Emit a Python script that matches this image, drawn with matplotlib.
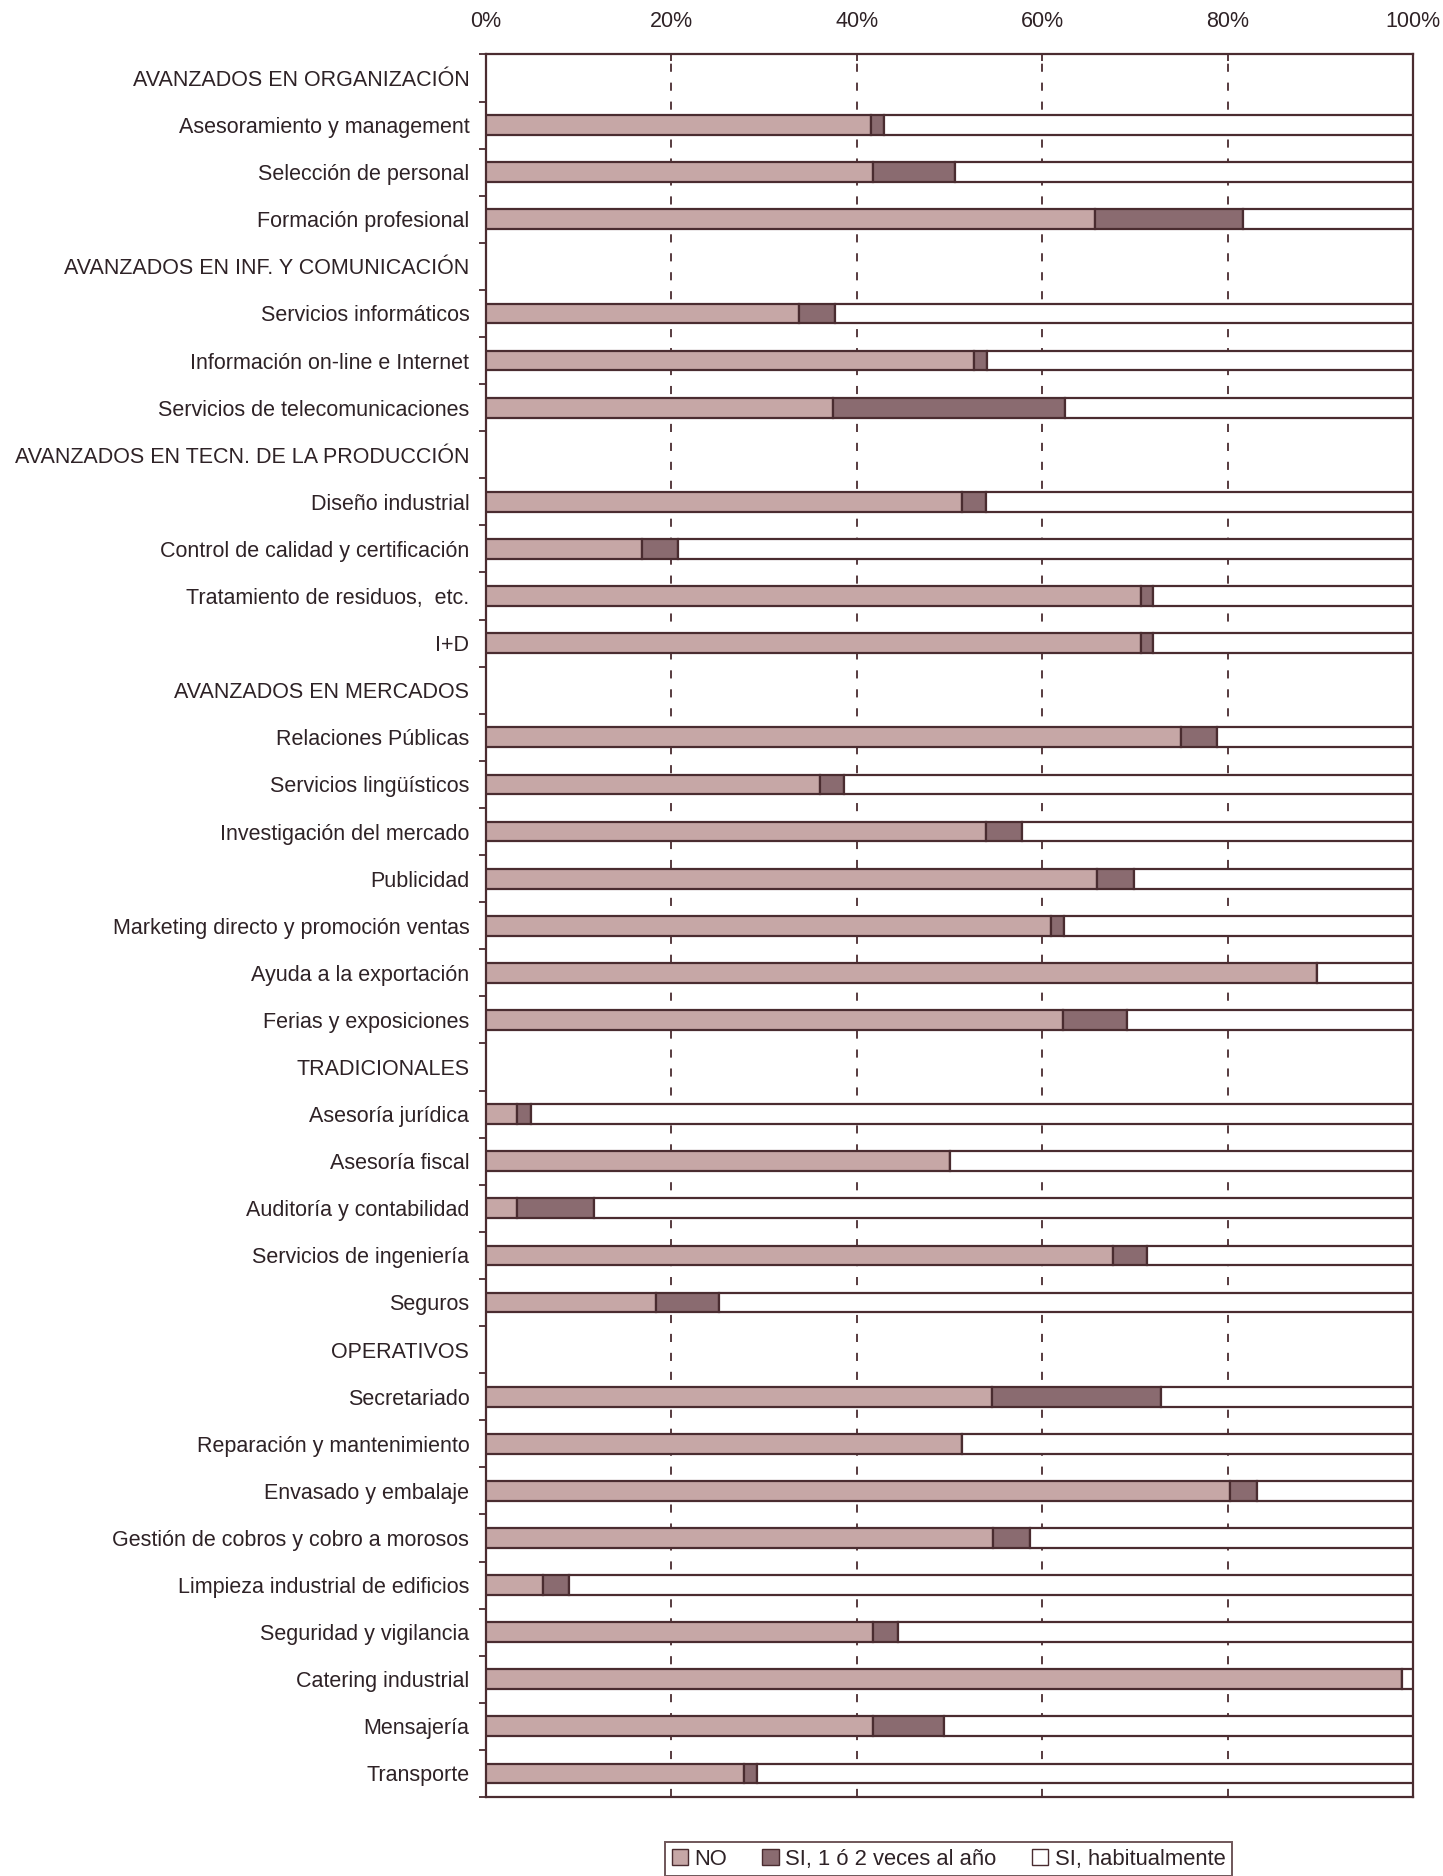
import numpy as np
import matplotlib
matplotlib.use("Agg")
import matplotlib.pyplot as plt
from matplotlib.patches import Patch

plt.rcParams['font.family'] = ['Liberation Sans', 'DejaVu Sans']

# grupos de servicios y sus filas
groups = ["AVANZADOS EN ORGANIZACIÓN", "AVANZADOS EN INF. Y COMUNICACIÓN",
          "AVANZADOS EN TECN. DE LA PRODUCCIÓN", "AVANZADOS EN MERCADOS",
          "TRADICIONALES", "OPERATIVOS"]
items = [
    ["Asesoramiento y management", "Selección de personal", "Formación profesional"],
    ["Servicios informáticos", "Información on-line e Internet", "Servicios de telecomunicaciones"],
    ["Diseño industrial", "Control de calidad y certificación", "Tratamiento de residuos,  etc.", "I+D"],
    ["Relaciones Públicas", "Servicios lingüísticos", "Investigación del mercado", "Publicidad",
     "Marketing directo y promoción ventas", "Ayuda a la exportación", "Ferias y exposiciones"],
    ["Asesoría jurídica", "Asesoría fiscal", "Auditoría y contabilidad", "Servicios de ingeniería", "Seguros"],
    ["Secretariado", "Reparación y mantenimiento", "Envasado y embalaje", "Gestión de cobros y cobro a morosos",
     "Limpieza industrial de edificios", "Seguridad y vigilancia", "Catering industrial", "Mensajería", "Transporte"],
]
# % NO
no_pct = [
    [41.5, 41.7, 65.7],
    [33.8, 52.6, 37.4],
    [51.4, 16.8, 70.7, 70.7],
    [75.0, 36.0, 53.9, 65.9, 61.0, 89.6, 62.2],
    [3.3, 50.1, 3.3, 67.6, 18.3],
    [54.6, 51.4, 80.3, 54.7, 6.2, 41.8, 98.8, 41.8, 27.8],
]
# % SI, 1 ó 2 veces al año
si12_pct = [
    [1.4, 8.9, 16.0],
    [3.8, 1.4, 25.1],
    [2.5, 3.9, 1.3, 1.3],
    [3.9, 2.6, 3.9, 4.0, 1.4, 0.0, 6.9],
    [1.6, 0.0, 8.3, 3.7, 6.8],
    [18.2, 0.0, 2.9, 4.0, 2.7, 2.6, 0.0, 7.6, 1.4],
]
legend_labels = ["NO", "SI, 1 ó 2 veces al año", "SI, habitualmente"]
xticks = [0, 20, 40, 60, 80, 100]

c_no = "#c6a7a6"
c_si = "#8a6b70"
c_hab = "white"
edge = "#4a2c30"
txt = "#2e2226"

labels = []
rows_no, rows_si, rows_pos = [], [], []
pos = 0
for g, its, nv, sv in zip(groups, items, no_pct, si12_pct):
    labels.append(g)
    pos += 1
    for it, a, b in zip(its, nv, sv):
        labels.append(it)
        rows_pos.append(pos)
        rows_no.append(a)
        rows_si.append(b)
        pos += 1

rows_pos = np.array(rows_pos)
rows_no = np.array(rows_no)
rows_si = np.array(rows_si)
rows_hab = 100 - rows_no - rows_si

fig = plt.figure(figsize=(14.43, 18.76), dpi=100)
ax = fig.add_axes([0.3368, 0.0421, 0.9792 - 0.3368, 0.9710 - 0.0421])

h = 0.42
kw = dict(height=h, edgecolor=edge, linewidth=1.6, zorder=3)
ax.barh(rows_pos, rows_no, color=c_no, **kw)
ax.barh(rows_pos, rows_si, left=rows_no, color=c_si, **kw)
ax.barh(rows_pos, rows_hab, left=rows_no + rows_si, color=c_hab, **kw)

n = len(labels)
ax.set_ylim(n - 0.5, -0.5)
ax.set_xlim(0, 100)

ax.set_yticks(np.arange(-0.5, n, 1.0))
ax.set_yticklabels([])
ax.set_yticks(np.arange(n), minor=True)
ax.set_yticklabels(labels, minor=True)
ax.tick_params(axis='y', which='major', length=5, width=1.3, color=edge, direction='out')
ax.tick_params(axis='y', which='minor', length=0, pad=12, labelsize=15.5, labelcolor=txt)

ax.set_xticks(xticks)
ax.set_xticklabels([f"{v}%" for v in xticks])
ax.xaxis.tick_top()
ax.tick_params(axis='x', length=5, width=1.3, color=edge, direction='in', pad=16,
               labelsize=15.5, labelcolor=txt, bottom=False, top=True)

for v in xticks[1:-1]:
    ax.axvline(v, color=edge, linewidth=1.3, dashes=(4.5, 6), zorder=1)

for s in ax.spines.values():
    s.set_color(edge)
    s.set_linewidth(1.6)

handles = [Patch(facecolor=c, edgecolor=edge, linewidth=1.0) for c in (c_no, c_si, c_hab)]
leg = fig.legend(handles, legend_labels, loc='upper left', bbox_to_anchor=(0.4608, 0.0181),
                 borderaxespad=0, ncol=3, frameon=True, fancybox=False, fontsize=15.8,
                 handlelength=0.75, handleheight=0.75, handletextpad=0.3, columnspacing=1.6,
                 borderpad=0.3, labelcolor=txt)
leg.get_frame().set_edgecolor(edge)
leg.get_frame().set_linewidth(1.4)

fig.savefig("out.png", dpi=100)
